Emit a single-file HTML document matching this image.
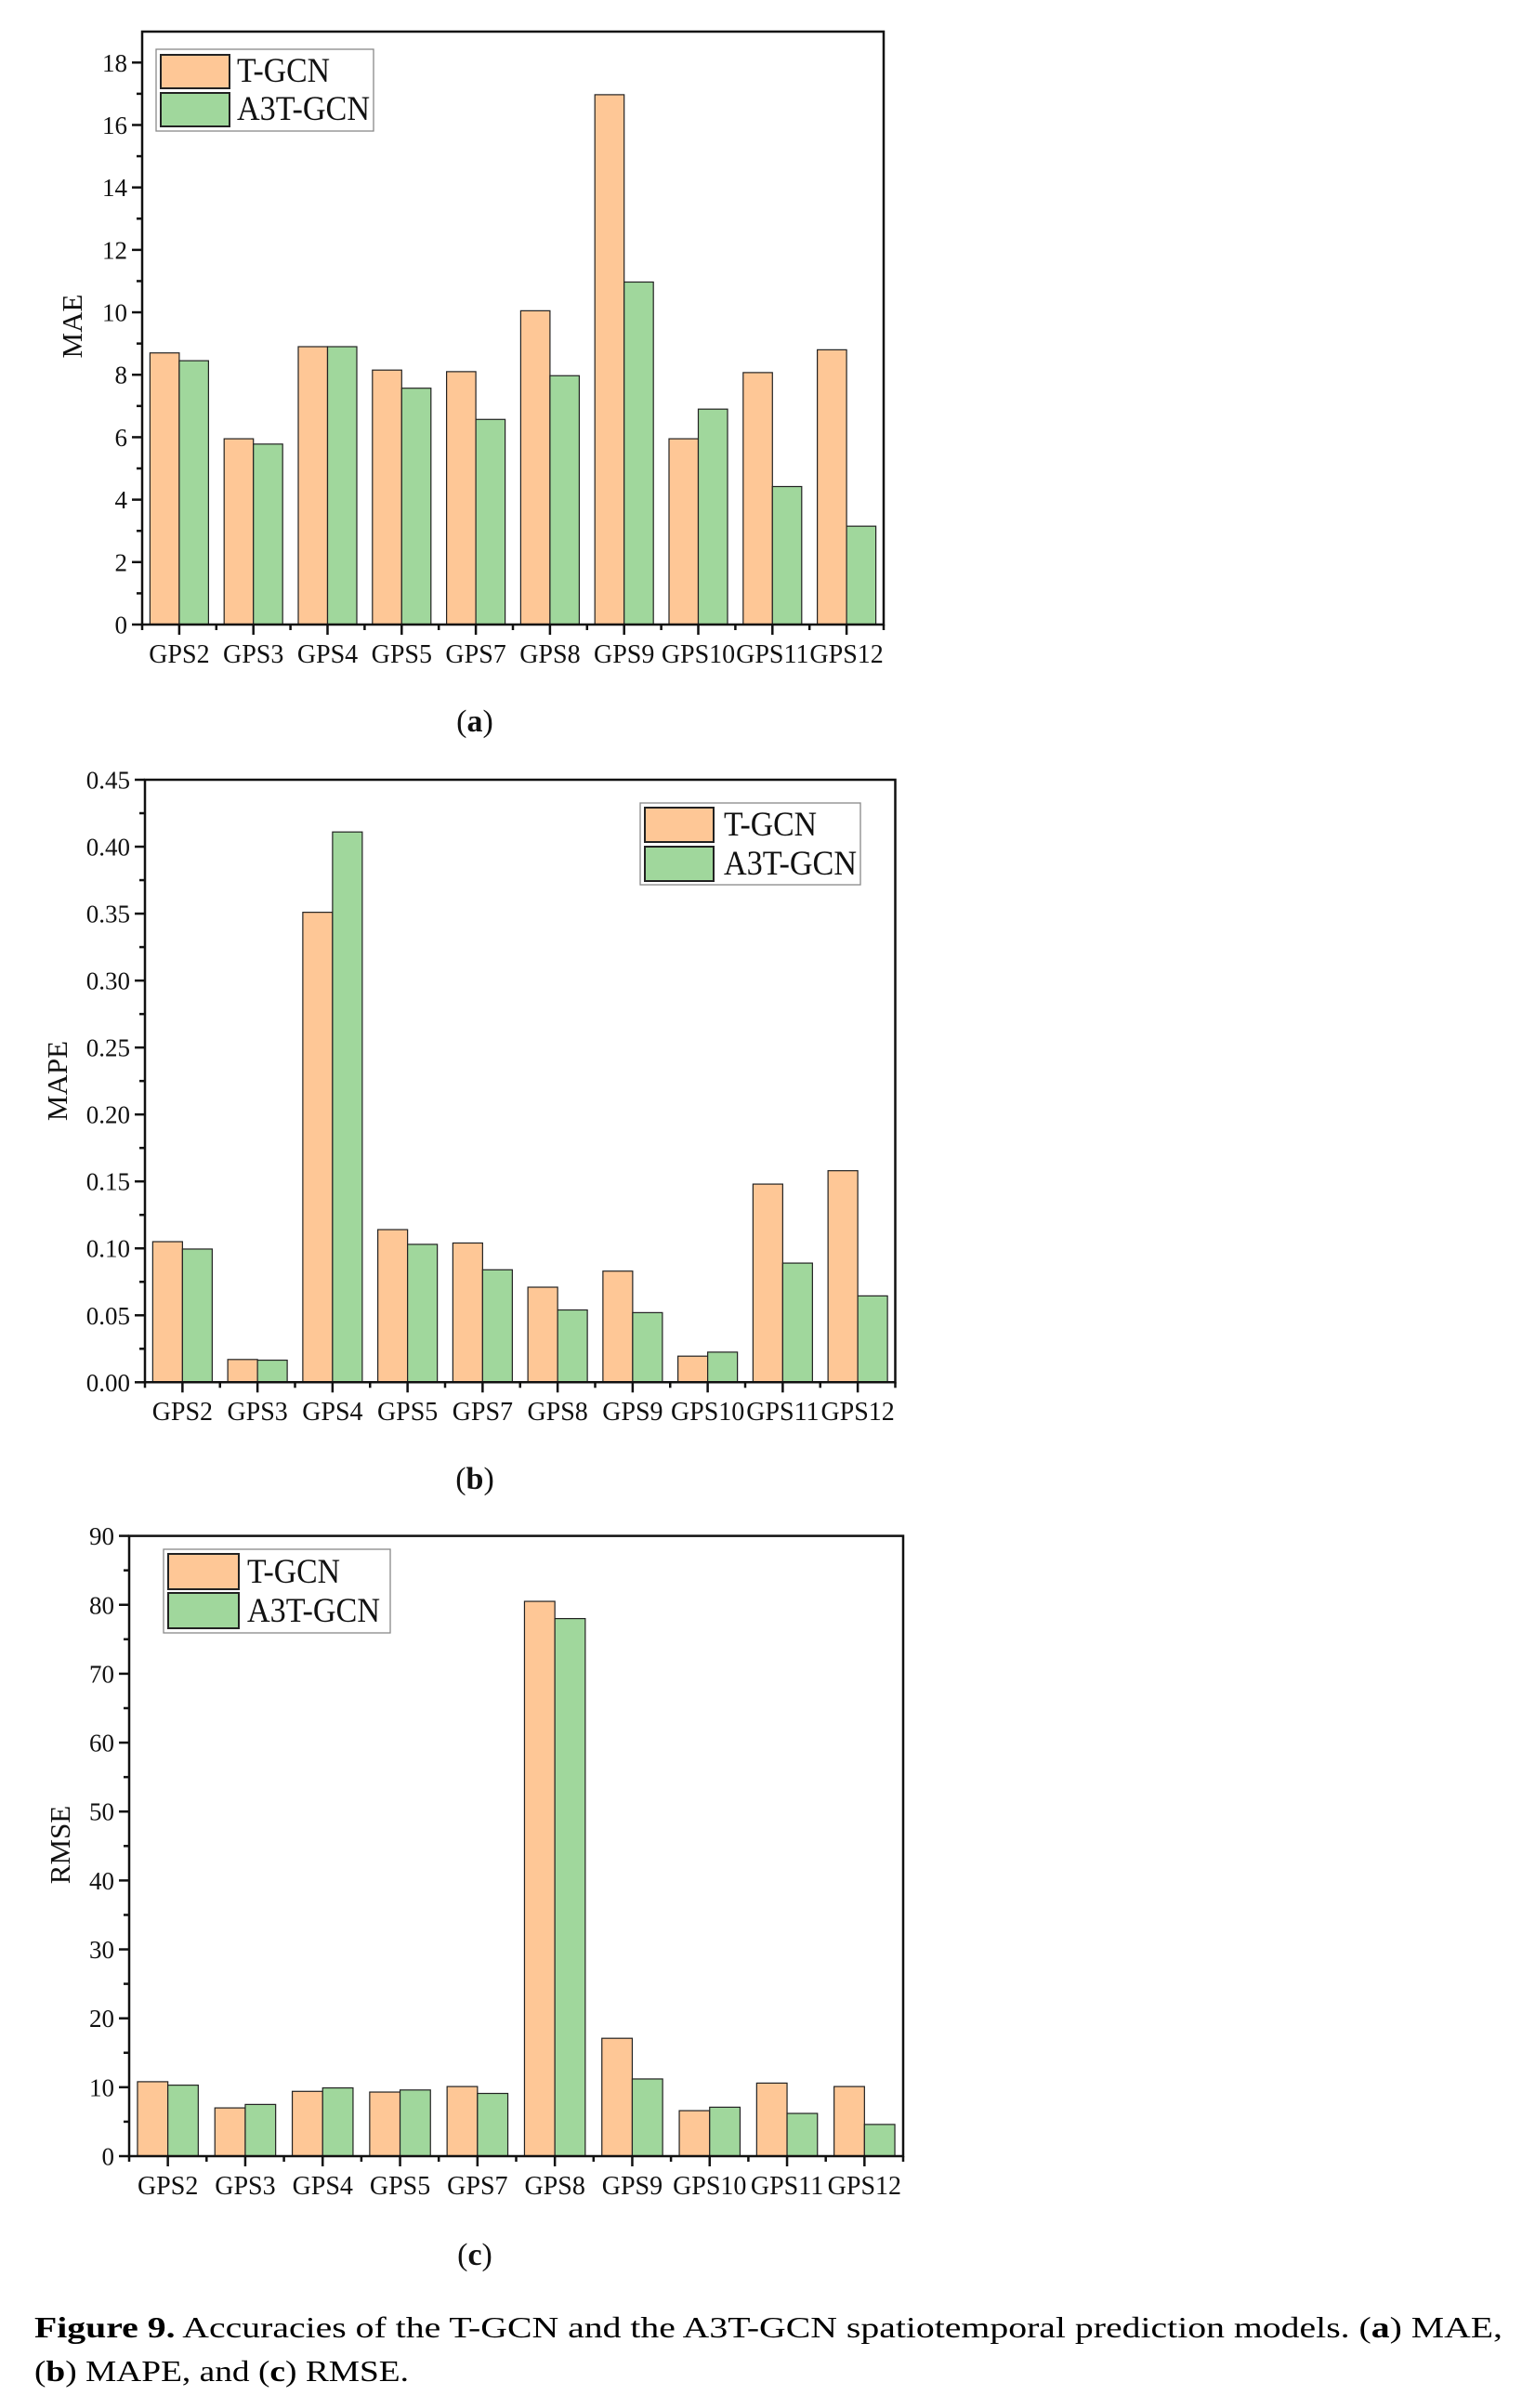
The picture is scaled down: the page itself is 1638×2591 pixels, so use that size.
<!DOCTYPE html>
<html><head><meta charset="utf-8"><title>Figure 9</title>
<style>
html,body{margin:0;padding:0;background:#fff;}
svg{display:block;font-family:"Liberation Serif","Times New Roman",serif;}
</style></head>
<body>
<svg id="fig" width="1638" height="2591" viewBox="0 0 1638 2591" xmlns="http://www.w3.org/2000/svg">
<text x="37" y="2515" font-size="32" textLength="1580" lengthAdjust="spacingAndGlyphs"><tspan font-weight="bold">Figure 9.</tspan> Accuracies of the T-GCN and the A3T-GCN spatiotemporal prediction models. (<tspan font-weight="bold">a</tspan>) MAE,</text>
<text x="37" y="2562" font-size="32" textLength="403" lengthAdjust="spacingAndGlyphs">(<tspan font-weight="bold">b</tspan>) MAPE, and (<tspan font-weight="bold">c</tspan>) RMSE.</text>
</svg>
<script>
const categories = ["GPS2","GPS3","GPS4","GPS5","GPS7","GPS8","GPS9","GPS10","GPS11","GPS12"];
const seriesNames = ["T-GCN","A3T-GCN"];
const maeTGCN = [8.7,5.95,8.9,8.15,8.1,10.05,16.97,5.95,8.07,8.8];
const maeA3T = [8.45,5.78,8.9,7.57,6.57,7.97,10.97,6.9,4.42,3.15];
const maeTicks = ["0","2","4","6","8","10","12","14","16","18"];
const mapeTGCN = [0.105,0.017,0.351,0.114,0.104,0.071,0.083,0.0195,0.148,0.158];
const mapeA3T = [0.0995,0.0165,0.411,0.103,0.084,0.054,0.052,0.0225,0.089,0.0645];
const mapeTicks = ["0.00","0.05","0.10","0.15","0.20","0.25","0.30","0.35","0.40","0.45"];
const rmseTGCN = [10.8,7.0,9.4,9.3,10.1,80.5,17.1,6.6,10.6,10.1];
const rmseA3T = [10.3,7.5,9.9,9.6,9.1,78.0,11.2,7.1,6.2,4.6];
const rmseTicks = ["0","10","20","30","40","50","60","70","80","90"];

const NS = "http://www.w3.org/2000/svg";
const svg = document.getElementById("fig");
const COLORS = ["#FEC796","#A0D79C"];
function mk(tag, attrs, parent, text){
  const e = document.createElementNS(NS, tag);
  for (const k in attrs) e.setAttribute(k, attrs[k]);
  if (text !== undefined) e.textContent = text;
  (parent || svg).appendChild(e);
  return e;
}

function drawChart(cfg){
  const g = mk("g", {});
  
  
  const L = cfg.left, R = cfg.right, B = cfg.bottom, T = cfg.top;
  const yScale = v => B - v / cfg.tickMax * (B - cfg.yTopTick);
  const band = (R - L) / categories.length;
  const xCenter = i => L + (i + 0.5) * band;
  const series = [cfg.s1, cfg.s2];
  series.forEach((vals, si) => {
    vals.forEach((v, i) => {
      const x = si === 0 ? xCenter(i) - cfg.bw : xCenter(i);
      const y = yScale(v);
      const r = mk("rect", {x: x, y: y, width: cfg.bw, height: B - y, fill: COLORS[si], stroke: "#222", "stroke-width": 1.2}, g);
      
      
    });
  });
  const fr = mk("path", {d: `M${L} ${B} L${L} ${T} L${R} ${T} L${R} ${B} Z`, fill: "none", stroke: "#111", "stroke-width": 2.5}, g);
  
  
  cfg.ticks.forEach((lab, k) => {
    const val = k * cfg.tickStep;
    const y = yScale(val);
    mk("line", {x1: L - 11, x2: L, y1: y, y2: y, stroke: "#111", "stroke-width": 2.5}, g);
    const ym = yScale(val + cfg.tickStep / 2);
    if (ym > T + 2) mk("line", {x1: L - 6, x2: L, y1: ym, y2: ym, stroke: "#111", "stroke-width": 2.5}, g);
    const t = mk("text", {x: L - 16, y: y + 9.5, "font-size": 27, "text-anchor": "end", fill: "#111"}, g, lab);
    
    
  });
  for (let i = 0; i <= categories.length; i++) {
    const xb = L + i * band;
    mk("line", {x1: xb, x2: xb, y1: B, y2: B + 6, stroke: "#111", "stroke-width": 2.5}, g);
  }
  categories.forEach((c, i) => {
    mk("line", {x1: xCenter(i), x2: xCenter(i), y1: B, y2: B + 11, stroke: "#111", "stroke-width": 2.5}, g);
    const t = mk("text", {x: xCenter(i), y: cfg.xLabY, "font-size": 28, "text-anchor": "middle", fill: "#111"}, g, c);
    
    
  });
  const yt = mk("text", {x: 0, y: 0, "font-size": 31, "text-anchor": "middle", fill: "#111", transform: `translate(${cfg.ytX},${cfg.ytY}) rotate(-90)`}, g, cfg.ytitle);
  
  
  const pl = mk("text", {x: 511, y: cfg.panelY, "font-size": 34, "text-anchor": "middle", fill: "#111"}, g);
  
  
  mk("tspan", {}, pl, "(");
  mk("tspan", {"font-weight": "bold"}, pl, cfg.panel);
  mk("tspan", {}, pl, ")");
  const lg = mk("g", {}, g);
  
  
  const lb = cfg.leg;
  mk("rect", {x: lb.x, y: lb.y, width: lb.w, height: lb.h, fill: "#fff", stroke: "#888", "stroke-width": 1.3}, lg);
  seriesNames.forEach((n, si) => {
    const sy = lb.sy[si];
    const sw = mk("rect", {x: lb.sx, y: sy, width: lb.sw, height: lb.sh, fill: COLORS[si], stroke: "#222", "stroke-width": 2}, lg);
    
    
    const tx = mk("text", {x: lb.tx, y: sy + lb.sh - 7, "font-size": 37, fill: "#111", textLength: si === 0 ? 100 : 143, lengthAdjust: "spacingAndGlyphs"}, lg, n);
    
    
  });
}

drawChart({name: "mae-chart", left: 153, right: 951, top: 34, bottom: 672, yTopTick: 67.3, tickMax: 18, tickStep: 2,
  ticks: maeTicks, s1: maeTGCN, s2: maeA3T, bw: 31.5, xLabY: 713, ytitle: "MAE", ytX: 88, ytY: 351, panel: "a", panelY: 787,
  leg: {x: 168, y: 53, w: 234, h: 88, sx: 173, sy: [59, 100], sw: 74, sh: 36, tx: 255}});
drawChart({name: "mape-chart", left: 156, right: 963.5, top: 839, bottom: 1487.3, yTopTick: 839, tickMax: 0.45, tickStep: 0.05,
  ticks: mapeTicks, s1: mapeTGCN, s2: mapeA3T, bw: 32, xLabY: 1528, ytitle: "MAPE", ytX: 72, ytY: 1163, panel: "b", panelY: 1602,
  leg: {x: 689, y: 864, w: 237, h: 88, sx: 694, sy: [869, 911], sw: 74, sh: 37, tx: 779}});
drawChart({name: "rmse-chart", left: 139, right: 972, top: 1652.6, bottom: 2320, yTopTick: 1652.6, tickMax: 90, tickStep: 10,
  ticks: rmseTicks, s1: rmseTGCN, s2: rmseA3T, bw: 32.7, xLabY: 2361, ytitle: "RMSE", ytX: 75, ytY: 1985, panel: "c", panelY: 2437,
  leg: {x: 176, y: 1667, w: 244, h: 90, sx: 181, sy: [1672, 1714], sw: 76, sh: 38, tx: 266}});
</script>
</body></html>
